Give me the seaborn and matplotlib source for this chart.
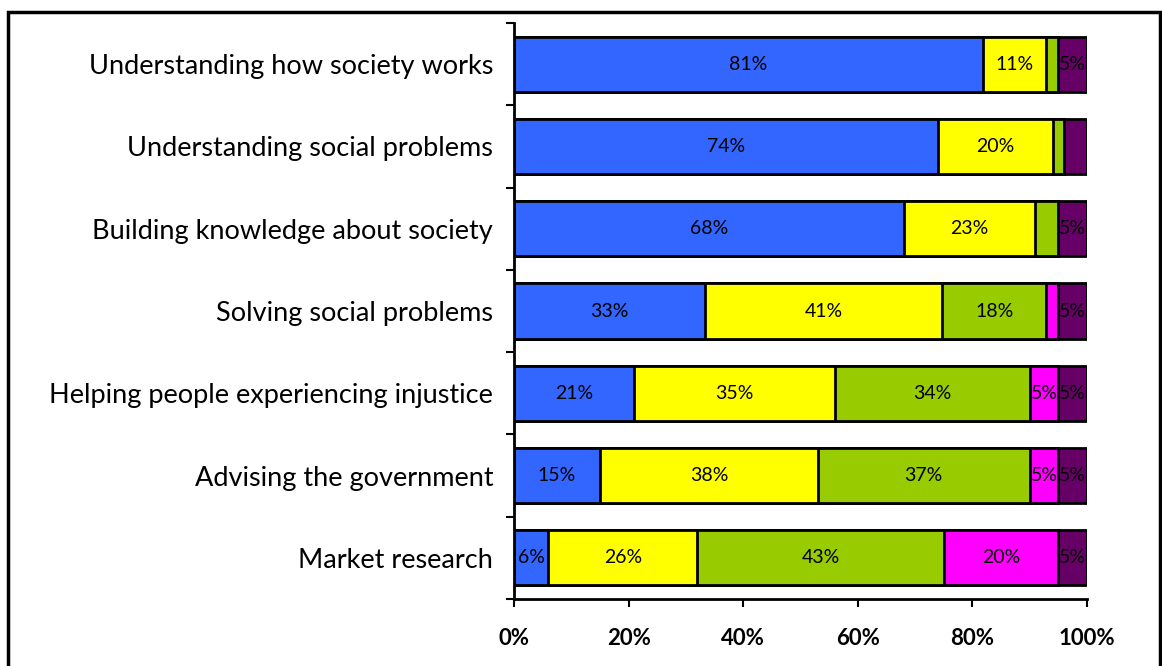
import matplotlib
matplotlib.use("Agg")
import matplotlib.pyplot as plt
import seaborn as sns
import numpy as np
import pandas as pd
from matplotlib.patches import Rectangle
from matplotlib.ticker import FixedLocator, PercentFormatter

categories = [
    "Understanding how society works",
    "Understanding social problems",
    "Building knowledge about society",
    "Solving social problems",
    "Helping people experiencing injustice",
    "Advising the government",
    "Market research",
]
s1 = [81, 74, 68, 33, 21, 15, 6]
s2 = [11, 20, 23, 41, 35, 38, 26]
s3 = [2, 2, 4, 18, 34, 37, 43]
s4 = [0, 0, 0, 2, 5, 5, 20]
s5 = [5, 4, 5, 5, 5, 5, 5]
series = [s1, s2, s3, s4, s5]
colors = ["#3366FF", "#FFFF00", "#99CC00", "#FF00FF", "#660066"]

sns.set_theme(style="white")
plt.rcParams["font.family"] = ["Lato", "DejaVu Sans"]
for k in ["text.color", "axes.labelcolor", "xtick.color", "ytick.color"]:
    plt.rcParams[k] = "black"

vals = np.array(series, dtype=float)
totals = vals.sum(axis=0)
pct = vals / totals * 100
cum = np.cumsum(pct, axis=0)

fig = plt.figure(figsize=(11.62, 6.66), dpi=100)
ax = fig.add_axes([514 / 1162, 67 / 666, (1087 - 514) / 1162, (643 - 67) / 666])

for i in range(len(series) - 1, -1, -1):
    df = pd.DataFrame({"cat": categories, "val": cum[i]})
    sns.barplot(data=df, x="val", y="cat", orient="h", color=colors[i],
                saturation=1, width=0.67, edgecolor="black", linewidth=2,
                ax=ax, errorbar=None)

for i in range(len(series)):
    for j in range(len(categories)):
        if vals[i, j] >= 5:
            ax.text(cum[i, j] - pct[i, j] / 2, j, f"{int(vals[i, j])}%",
                    ha="center", va="center", fontsize=14, color="black")

ax.set_xlim(0, 100)
ax.set_ylim(len(categories) - 0.5, -0.5)
ax.set_xlabel("")
ax.set_ylabel("")
ax.xaxis.set_major_locator(FixedLocator([0, 20, 40, 60, 80, 100]))
ax.xaxis.set_major_formatter(PercentFormatter(decimals=0))
ax.tick_params(axis="x", direction="out", length=6, width=1.5, labelsize=16, pad=15,
               bottom=True, colors="black")
for lbl in ax.get_xticklabels():
    lbl.set_fontweight("bold")
ax.tick_params(axis="y", which="major", length=0, labelsize=19.5, pad=15, colors="black")
ax.yaxis.set_minor_locator(FixedLocator(np.arange(-0.5, len(categories), 1.0)))
ax.tick_params(axis="y", which="minor", direction="out", length=6, width=1.5,
               left=True, color="black")

sns.despine(ax=ax, top=True, right=True)
for side in ["left", "bottom"]:
    ax.spines[side].set_color("black")
    ax.spines[side].set_linewidth(2)

fig.patches.append(Rectangle((8 / 1162, -0.05), (1160 - 8) / 1162, (666 - 12) / 666 + 0.05,
                             transform=fig.transFigure, fill=False,
                             edgecolor="black", linewidth=2.5))

fig.savefig("out.png", dpi=100)
